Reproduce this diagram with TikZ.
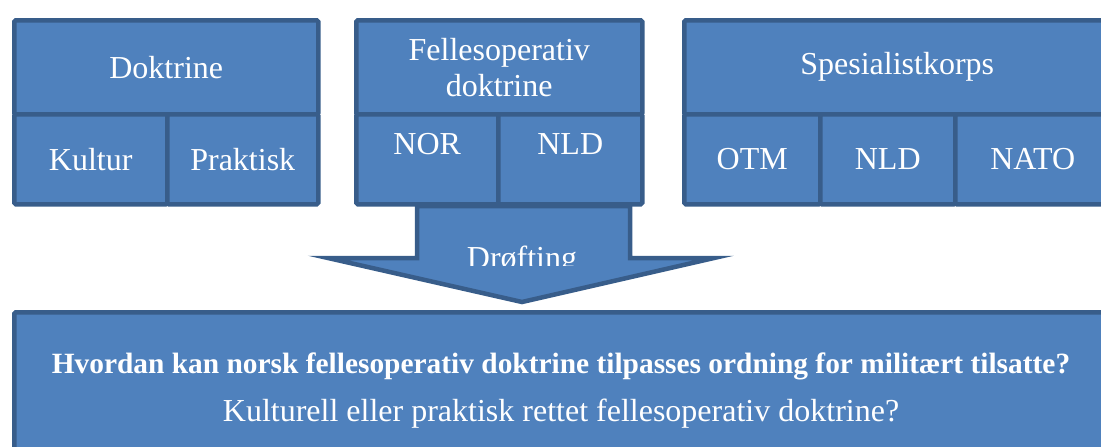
\documentclass[tikz,border=0pt]{standalone}
\usepackage{fontspec}
\setmainfont{Liberation Serif}
\usetikzlibrary{positioning,calc}
\definecolor{boxfill}{HTML}{4F81BD}
\definecolor{boxline}{HTML}{385D8A}

\begin{document}
\begin{tikzpicture}[
    x=1pt, y=-1pt,
    cell/.style={rectangle, draw=boxline, fill=boxfill, line width=4.5pt, rounded corners=1.5pt,
        anchor=north west, inner sep=0pt, text=white, align=center,
        font=\fontsize{32}{36}\selectfont},
    toptext/.style={text depth=30pt},
    arrowshape/.style={draw=boxline, fill=boxfill, line width=4.5pt, line join=miter, miter limit=20},
    label/.style={text=white, inner sep=0pt}
]
    \clip (0,0) rectangle (1101,447);

    % arrow
    \coordinate (a1) at (417,206);
    \coordinate (a2) at (630,206);
    \coordinate (a3) at (630,258);
    \coordinate (a4) at (714,258);
    \coordinate (tip) at (522,302);
    \coordinate (a5) at (328,258);
    \coordinate (a6) at (417,258);
    \draw[arrowshape] (a1) -- (a2) -- (a3) -- (a4) -- (tip) -- (a5) -- (a6) -- cycle;
    \begin{scope}
        \clip (417,206) rectangle (630,265);
        \node[label, anchor=base, font=\fontsize{32}{36}\selectfont] (droft) at (522,268) {Drøfting};
    \end{scope}

    % left group
    \node[cell, minimum width=304pt, minimum height=94pt] (doktrine) at (12,18) {Doktrine};
    \node[cell, minimum width=153pt, minimum height=90pt] (kultur) at (12,112) {Kultur};
    \node[cell, minimum width=151pt, minimum height=90pt] (praktisk) at (165,112) {Praktisk};

    % middle group
    \node[cell, minimum width=286pt, minimum height=94pt] (felles) at (354,18) {Fellesoperativ\\doktrine};
    \node[cell, toptext, minimum width=142pt, minimum height=90pt] (nor) at (354,112) {NOR};
    \node[cell, toptext, minimum width=144pt, minimum height=90pt] (nld) at (496,112) {NLD};

    % right group
    \node[cell, minimum width=426pt, minimum height=94pt] (spes) at (682,18) {Spesialistkorps};
    \node[cell, minimum width=136pt, minimum height=90pt] (otm) at (682,112) {OTM};
    \node[cell, minimum width=135pt, minimum height=90pt] (nldb) at (818,112) {NLD};
    \node[cell, minimum width=155pt, minimum height=90pt] (nato) at (953,112) {NATO};

    % bottom box
    \node[cell, minimum width=1103pt, minimum height=160pt] (bunn) at (12,310) {};
    \node[label, font=\fontsize{29.4}{32}\selectfont\bfseries] (sporsmal) at (561,366) {Hvordan kan norsk fellesoperativ doktrine tilpasses ordning for militært tilsatte?};
    \node[label, font=\fontsize{32}{36}\selectfont] (under) at (561,414) {Kulturell eller praktisk rettet fellesoperativ doktrine?};
\end{tikzpicture}
\end{document}
